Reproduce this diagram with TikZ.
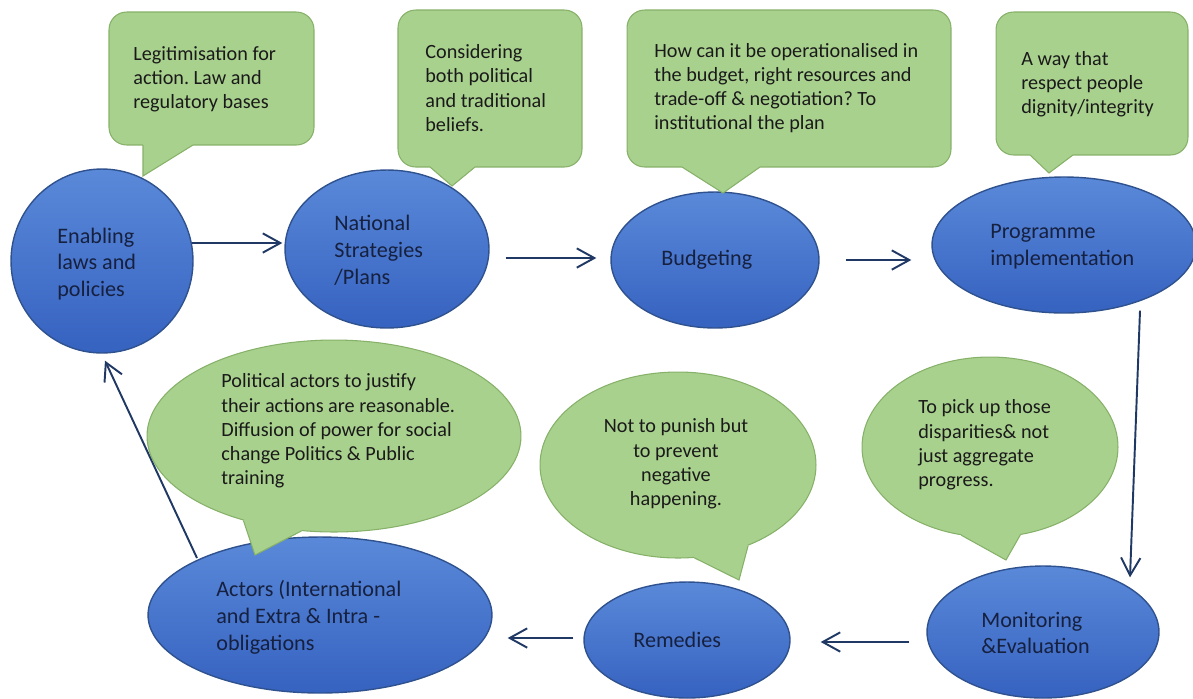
\documentclass[tikz,border=0pt]{standalone}
\usepackage{fontspec}
\setmainfont{Carlito}
\frenchspacing
\usetikzlibrary{shapes.geometric,arrows.meta,calc}
\definecolor{blueT}{HTML}{5A89D9}
\definecolor{blueB}{HTML}{3662C0}
\definecolor{blueD}{HTML}{2F528F}
\definecolor{gfillc}{HTML}{A9D18E}
\definecolor{glinec}{HTML}{86B168}
\definecolor{arrc}{HTML}{203864}
\definecolor{btxtc}{HTML}{16203F}
\definecolor{gtxtc}{HTML}{1A1A1A}
\begin{document}
\begin{tikzpicture}[x=0.02cm,y=-0.02cm,
  blueell/.style={ellipse, draw=blueD, line width=0.8pt, top color=blueT, bottom color=blueB, inner sep=0pt},
  greenell/.style={ellipse, draw=glinec, line width=0.6pt, fill=gfillc, inner sep=0pt},
  greenbox/.style={rectangle, rounded corners=10pt, draw=glinec, line width=0.6pt, fill=gfillc, inner sep=0pt},
  tailfill/.style={fill=gfillc},
  tailline/.style={draw=glinec, line width=0.6pt, line join=miter},
  btext/.style={anchor=west, align=left, inner sep=0pt, text=btxtc, font=\fontsize{12.6}{15.3}\selectfont},
  gtext/.style={anchor=west, align=left, inner sep=0pt, text=gtxtc, font=\fontsize{11.5}{13.8}\selectfont},
  arr/.style={draw=arrc, line width=1.1pt, -{Straight Barb[length=10pt,width=11pt]}}]
\useasboundingbox (0,0) rectangle (1193,698);
\clip (0,0) rectangle (1193,698);

% blue process ellipses
\node[blueell, minimum width=3.64cm, minimum height=3.68cm] (enab) at (102,261) {};
\node[blueell, minimum width=4.08cm, minimum height=3.16cm] (nat) at (387,249) {};
\node[blueell, minimum width=4.16cm, minimum height=2.72cm] (bud) at (715,260) {};
\node[blueell, minimum width=5.28cm, minimum height=2.72cm] (prog) at (1064,245) {};
\node[blueell, minimum width=6.88cm, minimum height=3.12cm] (act) at (320,615) {};
\node[blueell, minimum width=4.12cm, minimum height=2.32cm] (rem) at (687,640) {};
\node[blueell, minimum width=4.64cm, minimum height=2.64cm] (mon) at (1043,632) {};

% arrows
\draw[arr] ($(enab.east)+(-2,-18)$) -- ($(nat.west)+(-2,-6)$);
\draw[arr] ($(nat.east)+(16,9)$) -- ($(bud.west)+(-14,-2)$);
\draw[arr] ($(bud.east)+(26,0)$) -- ($(prog.west)+(-20,15)$);
\draw[arr] ($(prog.south)+(76,-3)$) -- ($(mon.north)+(87,12)$);
\draw[arr] ($(mon.west)+(-17,10)$) -- ($(rem.east)+(30,2)$);
\draw[arr] ($(rem.west)+(-10,-2)$) -- ($(act.east)+(15,23)$);
\draw[arr] ($(act.center)+(-123,-57)$) -- ($(enab.south)+(3,7)$);

% green rectangular callouts
\node[greenbox, minimum width=4.10cm, minimum height=2.66cm] (leg) at (211.5,78.5) {};
\fill[tailfill] (143,141) -- (143,176) -- (193,145) -- (193,141) -- cycle;
\draw[tailline] (143,145) -- (143,176) -- (193,145);

\node[greenbox, minimum width=3.68cm, minimum height=3.14cm] (con) at (490,88.5) {};
\fill[tailfill] (430,163) -- (430,167) -- (452,186) -- (475,167) -- (475,163) -- cycle;
\draw[tailline] (430,167) -- (452,186) -- (475,167);

\node[greenbox, minimum width=6.48cm, minimum height=3.14cm] (how) at (789,88.5) {};
\fill[tailfill] (682,163) -- (682,167) -- (723,193) -- (760,167) -- (760,163) -- cycle;
\draw[tailline] (682,167) -- (723,193) -- (760,167);

\node[greenbox, minimum width=3.84cm, minimum height=2.86cm] (way) at (1092,83.5) {};
\fill[tailfill] (1030,151) -- (1030,155) -- (1049,173) -- (1073,155) -- (1073,151) -- cycle;
\draw[tailline] (1030,155) -- (1049,173) -- (1073,155);

% green elliptical callouts
\node[greenell, minimum width=7.48cm, minimum height=3.84cm] (pol) at (334,436) {};
\coordinate (poltip) at (255,555);
\fill[tailfill] ($(pol.223.3)!0.06!(pol.center)$) -- (pol.223.3) -- (poltip) -- (pol.251.2) -- ($(pol.251.2)!0.06!(pol.center)$) -- cycle;
\draw[tailline] (pol.223.3) -- (poltip) -- (pol.251.2);

\node[greenell, minimum width=5.52cm, minimum height=3.72cm] (pun) at (678,465) {};
\coordinate (puntip) at (739,580);
\fill[tailfill] ($(pun.280.7)!0.06!(pun.center)$) -- (pun.280.7) -- (puntip) -- (pun.311.5) -- ($(pun.311.5)!0.06!(pun.center)$) -- cycle;
\draw[tailline] (pun.280.7) -- (puntip) -- (pun.311.5);

\node[greenell, minimum width=5.12cm, minimum height=3.6cm] (pick) at (990,447) {};
\coordinate (picktip) at (1006,560);
\fill[tailfill] ($(pick.252.6)!0.06!(pick.center)$) -- (pick.252.6) -- (picktip) -- (pick.289.6) -- ($(pick.289.6)!0.06!(pick.center)$) -- cycle;
\draw[tailline] (pick.252.6) -- (picktip) -- (pick.289.6);

% blue texts
\node[btext] (enabT) at (57,264) {Enabling\\laws and\\policies};
\node[btext] (natT) at (334,250) {National\\Strategies\\/Plans};
\node[btext] (budT) at (661,260) {Budgeting};
\node[btext] (progT) at (990,247) {Programme\\implementation};
\node[btext] (actT) at (216,617) {Actors (International\\and Extra \& Intra -\\obligations};
\node[btext] (remT) at (633,640) {Remedies};
\node[btext] (monT) at (981,633) {Monitoring\\\&Evaluation};

% green texts
\node[gtext] (legT) at (133,79) {Legitimisation for\\action. Law and\\regulatory bases};
\node[gtext] (conT) at (425,88) {Considering\\both political\\and traditional\\beliefs.};
\node[gtext] (howT) at (654,88) {How can it be operationalised in\\the budget, right resources and\\trade-off \& negotiation? To\\institutional the plan};
\node[gtext] (wayT) at (1021,84) {A way that\\respect people\\dignity/integrity};
\node[gtext] (polT) at (221,431) {Political actors to justify\\their actions are reasonable.\\Diffusion of power for social\\change Politics \& Public\\training};
\node[gtext, anchor=center, align=center] (punT) at (676,464) {Not to punish but\\to prevent\\negative\\happening.};
\node[gtext] (pickT) at (918,445) {To pick up those\\disparities\& not\\just aggregate\\progress.};
\end{tikzpicture}
\end{document}
